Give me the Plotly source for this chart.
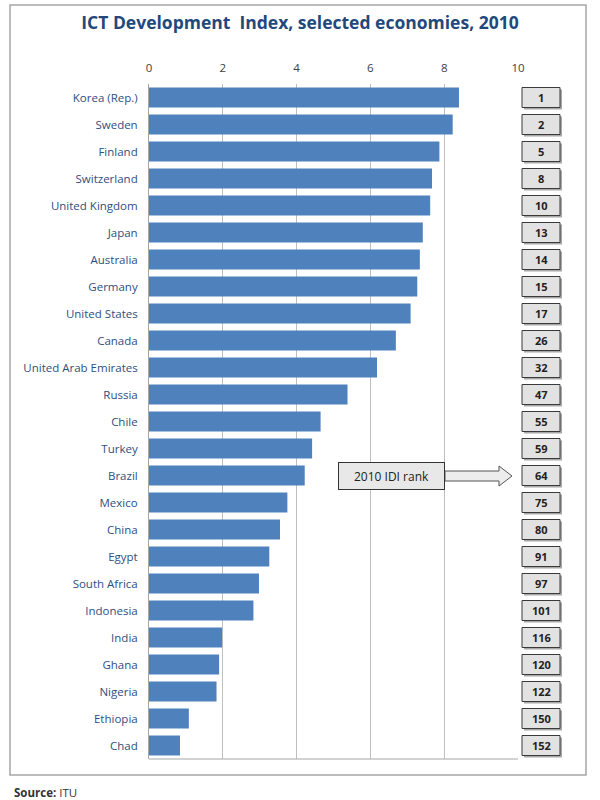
import plotly.graph_objects as go

countries = ["Korea (Rep.)", "Sweden", "Finland", "Switzerland", "United Kingdom", "Japan",
             "Australia", "Germany", "United States", "Canada", "United Arab Emirates", "Russia",
             "Chile", "Turkey", "Brazil", "Mexico", "China", "Egypt", "South Africa", "Indonesia",
             "India", "Ghana", "Nigeria", "Ethiopia", "Chad"]
idi_values = [8.40, 8.23, 7.87, 7.67, 7.62, 7.42, 7.34, 7.27, 7.09, 6.69, 6.18, 5.38,
              4.65, 4.42, 4.22, 3.75, 3.55, 3.26, 2.98, 2.83, 1.98, 1.90, 1.83, 1.08, 0.84]
ranks = [1, 2, 5, 8, 10, 13, 14, 15, 17, 26, 32, 47, 55, 59, 64, 75, 80, 91, 97, 101,
         116, 120, 122, 150, 152]
x_ticks = [0, 2, 4, 6, 8, 10]

FONT = "Open Sans, Liberation Sans, sans-serif"

fig = go.Figure(go.Bar(
    x=idi_values, y=countries, orientation="h",
    marker=dict(color="#4F81BD", line=dict(width=0)),
    hoverinfo="x+y",
))

W, H = 600, 800
ml, mr, mt, mb = 149, 82, 84, 41

fig.update_layout(
    width=W, height=H,
    margin=dict(l=ml, r=mr, t=mt, b=mb),
    paper_bgcolor="white", plot_bgcolor="white",
    bargap=0.26,
    showlegend=False,
    font=dict(family=FONT, color="#404040"),
    title=dict(text="<b>ICT Development  Index, selected economies, 2010</b>",
               x=0.5, xanchor="center", y=1 - 23 / H, yanchor="middle",
               font=dict(size=17.5, color="#1F497D", family=FONT)),
    xaxis=dict(range=[0, 10], tickvals=x_ticks, side="top",
               showgrid=True, gridcolor="#BFBFBF", gridwidth=1,
               zeroline=False, showline=False,
               ticks="", tickfont=dict(size=11.5, color="#404040"),
               ticklabelstandoff=9, fixedrange=True),
    yaxis=dict(categoryorder="array", categoryarray=countries, autorange="reversed",
               showline=True, linecolor="#A6A6A6", linewidth=1,
               ticks="", ticklen=0, tickfont=dict(size=11.5, color="#2E4F80"),
               ticklabelstandoff=8, fixedrange=True),
)

def px_x(px):
    return (px - ml) / (W - ml - mr)

def px_y(py):
    return (H - mb - py) / (H - mt - mb)

shapes = []
# bottom line of plot area
shapes.append(dict(type="line", xref="paper", yref="paper", x0=0, x1=1, y0=0, y1=0,
                   line=dict(color="#A6A6A6", width=1)))
# outer frame
shapes.append(dict(type="rect", xref="paper", yref="paper",
                   x0=px_x(10), x1=px_x(586), y0=px_y(775), y1=px_y(5),
                   line=dict(color="#A6A6A6", width=1.5), fillcolor="rgba(0,0,0,0)",
                   layer="below"))

# rank boxes (shadow + box), anchored on each country's category
for c in countries:
    shapes.append(dict(type="rect", xref="paper", yref="y", ysizemode="pixel", yanchor=c,
                       x0=px_x(524), x1=px_x(562), y0=-12, y1=8,
                       fillcolor="#A8A8A8", line=dict(width=0)))
    shapes.append(dict(type="rect", xref="paper", yref="y", ysizemode="pixel", yanchor=c,
                       x0=px_x(522), x1=px_x(560), y0=-10, y1=10,
                       fillcolor="#E2E2E2", line=dict(color="#3A3A3A", width=1)))

# block arrow from label box to rank column
ax0, ax1, ax2 = 445, 499, 512
yc = 476
sh, hh = 5, 10
path = (f"M {px_x(ax0)} {px_y(yc - sh)} L {px_x(ax1)} {px_y(yc - sh)} L {px_x(ax1)} {px_y(yc - hh)} "
        f"L {px_x(ax2)} {px_y(yc)} L {px_x(ax1)} {px_y(yc + hh)} L {px_x(ax1)} {px_y(yc + sh)} "
        f"L {px_x(ax0)} {px_y(yc + sh)} Z")
shapes.append(dict(type="path", xref="paper", yref="paper", path=path,
                   fillcolor="#EDEDED", line=dict(color="#555555", width=1)))
fig.update_layout(shapes=shapes)

annotations = []
for c, r in zip(countries, ranks):
    annotations.append(dict(x=px_x(541), y=c, xref="paper", yref="y",
                            xanchor="center", yanchor="middle",
                            text=f"<b>{r}</b>", showarrow=False,
                            font=dict(size=11, color="#222222", family=FONT)))

# label box "2010 IDI rank"
annotations.append(dict(x=px_x(391.5), y=px_y(476), xref="paper", yref="paper",
                        xanchor="center", yanchor="middle",
                        text="2010 IDI rank", showarrow=False,
                        font=dict(size=12, color="#222222", family=FONT),
                        bgcolor="#E8E8E8", bordercolor="#333333", borderwidth=1,
                        width=105, height=26, borderpad=0))
# source
annotations.append(dict(x=px_x(12), y=px_y(792), xref="paper", yref="paper",
                        xanchor="left", yanchor="middle",
                        text="<b>Source:</b> ITU", showarrow=False,
                        font=dict(size=11.5, color="#333333", family=FONT)))
fig.update_layout(annotations=annotations)

fig.write_html("out.html")
